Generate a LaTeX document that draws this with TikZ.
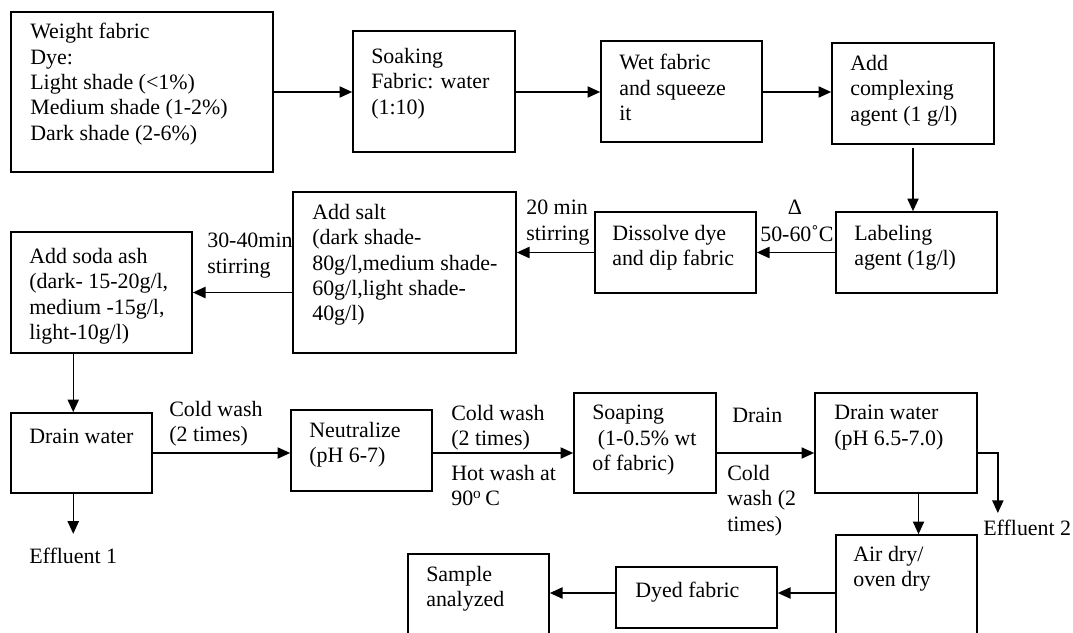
\documentclass[tikz,border=0pt]{standalone}
\usepackage{fontspec}
\setmainfont{Liberation Serif}
\usetikzlibrary{arrows.meta,fit}

\begin{document}
\begin{tikzpicture}[
  x=0.025cm, y=-0.025cm,
  font=\fontsize{15.6}{18}\selectfont, >={Triangle[length=9pt,width=8pt]},
  box/.style={draw, line width=1.2pt, inner sep=0pt},
  txt/.style={anchor=north west, yshift=12pt, align=left, inner sep=0pt,
    execute at begin node={\rule{0pt}{12pt}}},
  arr/.style={->, line width=1pt}
]
\useasboundingbox (0,0) rectangle (1073,632);
\clip (0,0) rectangle (1073,632);

% first row
\node[box, fit={(11,12) (273,172)}] (wf) {};
\node[txt] (wf_text) at (30,40) {Weight fabric\\Dye:\\Light shade (<1\%)\\Medium shade (1-2\%)\\Dark shade (2-6\%)};

\node[box, fit={(353,31) (515,152)}] (soak) {};
\node[txt] (soak_text) at (371,65) {Soaking\\Fabric: water\\(1:10)};

\node[box, fit={(601,41) (762,142)}] (wet) {};
\node[txt] (wet_text) at (619,71) {Wet fabric\\and squeeze\\it};

\node[box, fit={(832,43) (994,144)}] (cplx) {};
\node[txt] (cplx_text) at (850,72) {Add\\complexing\\agent (1 g/l)};

\draw[arr] (wf.east |- 0,92) -- (soak.west |- 0,92);
\draw[arr] (soak.east |- 0,92) -- (wet.west |- 0,92);
\draw[arr] (wet.east |- 0,92) -- (cplx.west |- 0,92);

% second row
\node[box, fit={(836,212) (997,293)}] (lab) {};
\node[txt] (lab_text) at (854,242) {Labeling\\agent (1g/l)};

\node[box, fit={(595,212) (756,293)}] (dis) {};
\node[txt] (dis_text) at (612,242) {Dissolve dye\\and dip fabric};

\node[box, fit={(293,192) (516,353)}] (salt) {};
\node[txt] (salt_text) at (312,221) {Add salt\\(dark shade-\\80g/l,medium shade-\\60g/l,light shade-\\40g/l)};

\node[box, fit={(11,232) (192,353)}] (soda) {};
\node[txt] (soda_text) at (29,265) {Add soda ash\\(dark- 15-20g/l,\\medium -15g/l,\\light-10g/l)};

\node[anchor=base, inner sep=0pt] (heat) at (795,214) {Δ};
\node[txt] (temp) at (760,241) {50-60˚C};
\node[txt] (stir20) at (526,217) {20 min\\stirring};
\node[txt] (stir30) at (207,250) {30-40min\\stirring};

\draw[arr] (cplx.south |- 0,148) -- (cplx.south |- lab.north);
\draw[arr] (lab.west) -- (dis.east);
\draw[arr] (dis.west) -- (dis.west -| salt.east);
\draw[arr] (salt.west |- soda.east) -- (soda.east);

% third row
\node[box, fit={(11,413) (152,493)}] (drain) {};
\node[txt] (drain_text) at (29,443) {Drain water};

\node[box, fit={(291,410) (432,491)}] (neut) {};
\node[txt] (neut_text) at (309,439) {Neutralize\\(pH 6-7)};

\node[box, fit={(574,393) (716,493)}] (soap) {};
\node[txt] (soap_text) at (592,422) {Soaping\\~(1-0.5\% wt\\of fabric)};

\node[box, fit={(815,393) (977,493)}] (drain2) {};
\node[txt] (drain2_text) at (834,422) {Drain water\\(pH 6.5-7.0)};

\node[txt] (eff1) at (29,563) {Effluent 1};
\node[txt] (eff2) at (983,535) {Effluent 2};
\node[txt] (cold1) at (169,418) {Cold wash\\(2 times)};
\node[txt] (cold2) at (451,422) {Cold wash\\(2 times)};
\node[txt] (hot) at (451,482) {Hot wash at\\90\textsuperscript{o}\,C};
\node[txt] (drainlbl) at (732,422) {Drain};
\node[txt] (cold3) at (727,482) {Cold\\wash (2\\times)};

\draw[arr] (soda.south -| eff1.north) -- (drain.north -| eff1.north);
\draw[arr] (drain.south -| eff1.north) -- ++(0,40);
\draw[arr] (drain.east) -- (drain.east -| neut.west);
\draw[arr] (neut.east |- drain.east) -- (soap.west |- drain.east);
\draw[arr] (soap.east |- drain.east) -- (drain2.west |- drain.east);
\draw[arr] (drain2.east |- drain.east) -- ++(20,0) -- ++(0,60);

% last row
\node[box, fit={(836,535) (977,660)}] (dry) {};
\node[txt] (dry_text) at (853,563) {Air dry/\\oven dry};

\node[box, fit={(616,567) (777,628)}] (dyed) {};
\node[txt] (dyed_text) at (635,597) {Dyed fabric};

\node[box, fit={(408,554) (549,660)}] (sample) {};
\node[txt] (sample_text) at (426,583) {Sample\\analyzed};

\coordinate (dry_in) at ([xshift=0.3cm]dry.north);
\draw[arr] (drain2.south -| dry_in) -- (dry_in);
\draw[arr] (dry.west |- 0,593) -- (dyed.east |- 0,593);
\draw[arr] (dyed.west |- 0,593) -- (sample.east |- 0,593);

\end{tikzpicture}
\end{document}
